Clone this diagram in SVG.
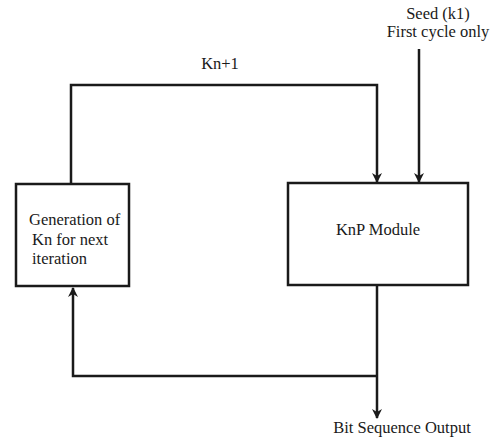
<svg xmlns="http://www.w3.org/2000/svg" width="496" height="439" viewBox="0 0 496 439">
<style>
.box{fill:#fff;stroke:#1a1a1a;stroke-width:2.5}
.ln{fill:none;stroke:#1a1a1a;stroke-width:2.5;stroke-linejoin:miter}
text{font-family:"Liberation Serif","Times New Roman",serif;font-size:16.5px;fill:#1a1a1a}
</style>
<defs>
<marker id="ah" viewBox="0 0 10 10" refX="9" refY="5" markerWidth="4" markerHeight="4" orient="auto" markerUnits="strokeWidth">
<path d="M0,0 L10,5 L0,10 L3,5 Z" fill="#1a1a1a"/>
</marker>
</defs>
<rect width="496" height="439" fill="#fff"/>
<g id="connectors">
<path class="ln" d="M71,184 V85 H377 V182" marker-end="url(#ah)"/>
<path class="ln" d="M419,49 V182" marker-end="url(#ah)"/>
<path class="ln" d="M377,285 V418" marker-end="url(#ah)"/>
<path class="ln" d="M377,376 H73 V288" marker-end="url(#ah)"/>
<text x="220" y="69" text-anchor="middle">Kn+1</text>
<text x="438" y="19" text-anchor="middle">Seed (k1)</text>
<text x="438" y="37" text-anchor="middle">First cycle only</text>
<text x="402" y="433" text-anchor="middle">Bit Sequence Output</text>
</g>
<g id="gen">
<rect class="box" x="16" y="184" width="113" height="102"/>
<text x="29" y="225">Generation of</text>
<text x="32" y="245">Kn for next</text>
<text x="32" y="264">iteration</text>
</g>
<g id="knp">
<rect class="box" x="288" y="183" width="180" height="102"/>
<text x="378" y="235" text-anchor="middle">KnP Module</text>
</g>
</svg>
